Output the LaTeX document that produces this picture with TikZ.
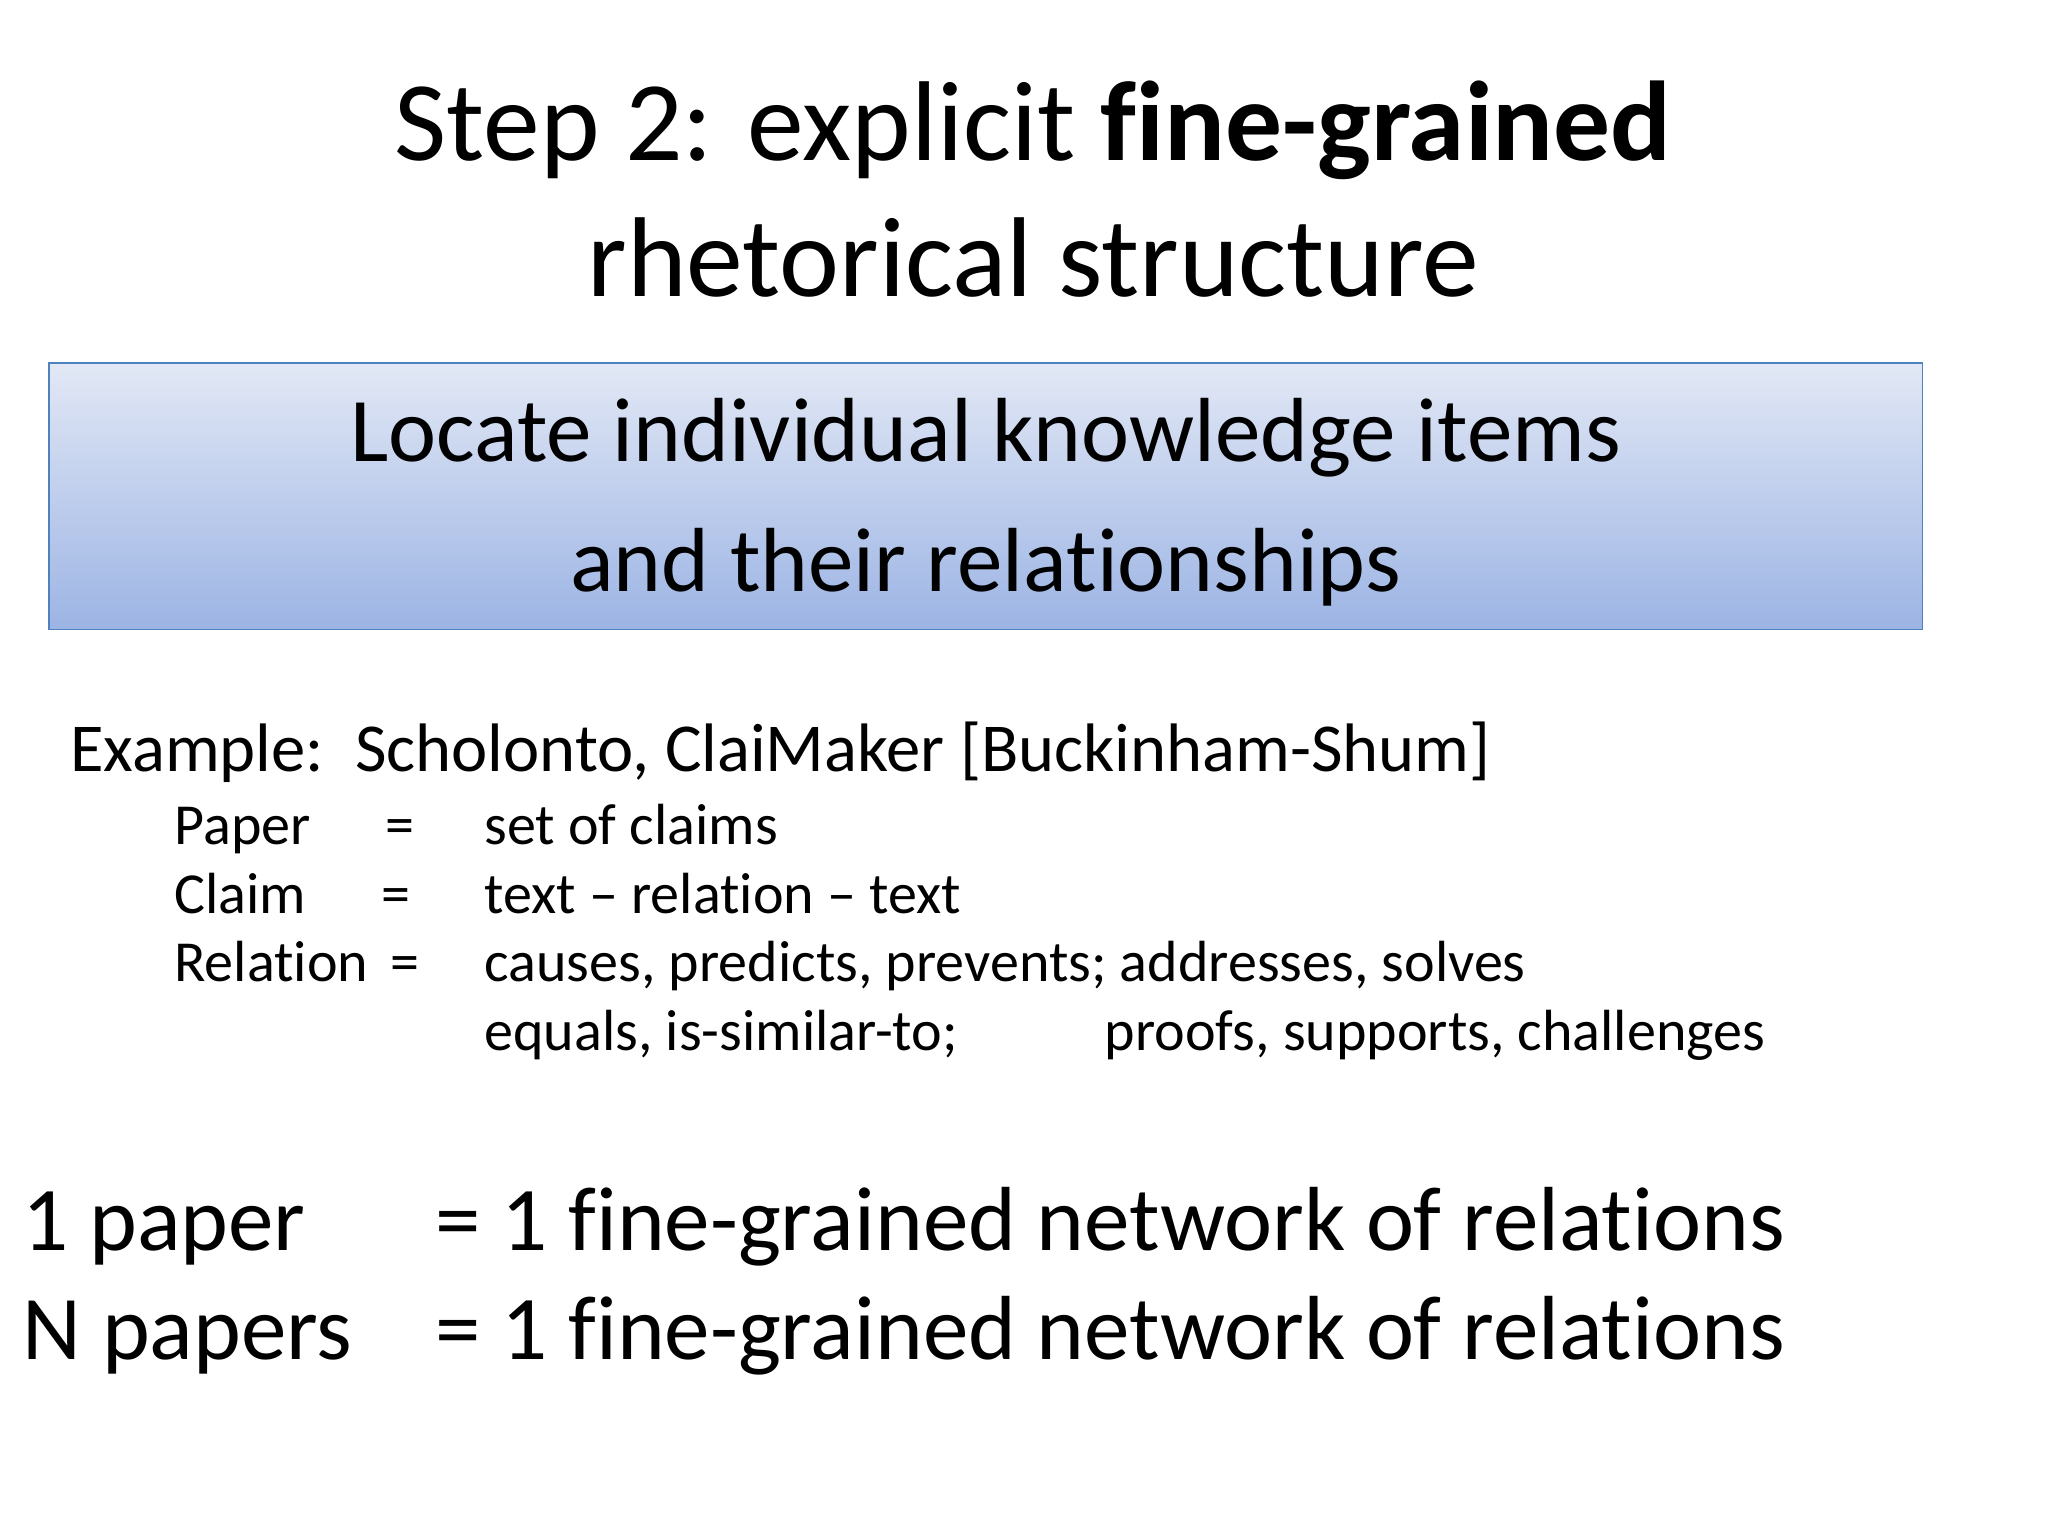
\documentclass[tikz,border=0pt]{standalone}
\usepackage{fontspec}
\setmainfont[Ligatures={NoCommon}]{Carlito}
\begin{document}
\begin{tikzpicture}[x=1pt,y=-1pt,
  t/.style={anchor=base west,inner sep=0pt},
  sub/.style={t,font=\fontsize{44}{52}\selectfont}]
\useasboundingbox (0,0) rectangle (1552,1164);
\fill[white] (0,0) rectangle (1552,1164);
\node[anchor=base,inner sep=0pt,font=\fontsize{86}{100}\selectfont] (t1) at (783,122) {Step 2: explicit \textbf{fine-grained}};
\node[anchor=base,inner sep=0pt,font=\fontsize{86}{100}\selectfont] (t2) at (783,225) {rhetorical structure};
\shade[top color={rgb,255:red,226;green,232;blue,245}, bottom color={rgb,255:red,156;green,180;blue,228}] (37,275) rectangle (1457,477);
\draw[draw={rgb,255:red,79;green,129;blue,189},line width=1.2] (37,275) rectangle (1457,477);
\node[anchor=base,inner sep=0pt,font=\fontsize{69}{80}\selectfont] (b1) at (747,350) {Locate individual knowledge items};
\node[anchor=base,inner sep=0pt,font=\fontsize{69}{80}\selectfont] (b2) at (747,448) {and their relationships};
\node[t,font=\fontsize{52}{60}\selectfont] (ex) at (53,585) {Example:\ \ Scholonto, ClaiMaker [Buckinham-Shum]};
\node[sub] (p1) at (132,640) {Paper};
\node[sub] (e1) at (292,640) {=};
\node[sub] (v1) at (367,640) {set of claims};
\node[sub] (p2) at (132,692) {Claim};
\node[sub] (e2) at (289,692) {=};
\node[sub] (v2) at (367,692) {text -- relation -- text};
\node[sub] (p3) at (132,744) {Relation};
\node[sub] (e3) at (296,744) {=};
\node[sub] (v3) at (367,744) {causes, predicts, prevents; addresses, solves};
\node[sub] (v4) at (367,796) {equals, is-similar-to;};
\node[sub] (v5) at (837,796) {proofs, supports, challenges};
\node[t,font=\fontsize{69}{80}\selectfont] (a1) at (17,948) {1 paper};
\node[t,font=\fontsize{69}{80}\selectfont] (a2) at (330,948) {= 1 fine-grained network of relations};
\node[t,font=\fontsize{69}{80}\selectfont] (n1) at (17,1030) {N papers};
\node[t,font=\fontsize{69}{80}\selectfont] (n2) at (330,1030) {= 1 fine-grained network of relations};
\end{tikzpicture}
\end{document}
